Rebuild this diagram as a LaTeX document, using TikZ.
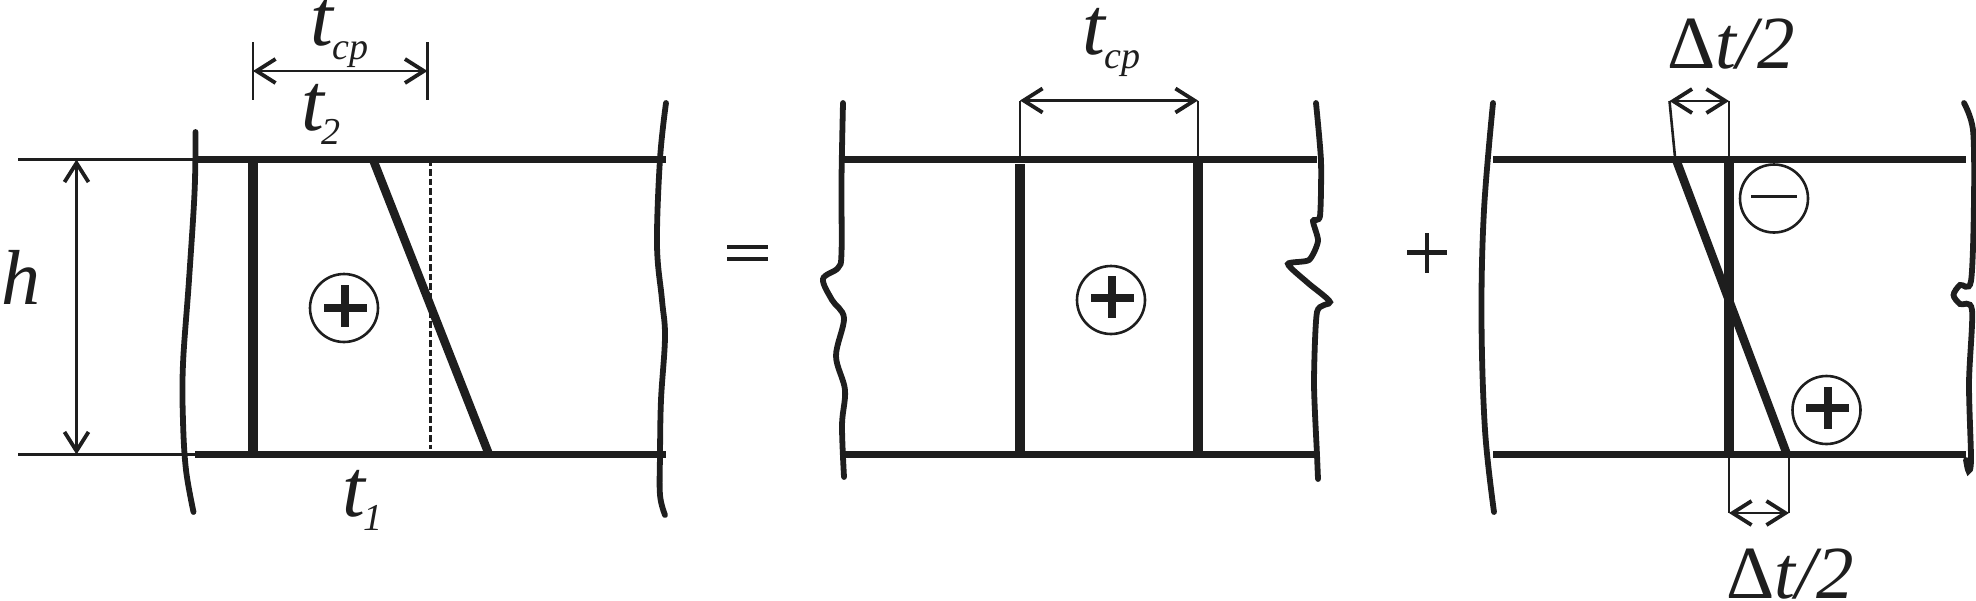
\documentclass[tikz,border=0pt]{standalone}
\usepackage{fontspec}
\setmainfont{Liberation Serif}
\usetikzlibrary{arrows.meta}
\definecolor{ink}{HTML}{1E1E1E}
\newcommand{\bigf}{\fontsize{82}{88}\selectfont\itshape}
\newcommand{\subf}{\fontsize{38}{40}\selectfont\itshape}
\newcommand{\tsub}[2]{\bigf t\hspace{#2}\raisebox{-14pt}{\subf #1}}
\newcommand{\dt}{{\fontsize{75}{80}\selectfont Δ\itshape t/2}}
\tikzset{
  chord/.style={draw=ink,line width=6.4pt},
  web/.style={draw=ink,line width=9.5pt},
  slant/.style={draw=ink,line width=8.5pt},
  brk/.style={draw=ink,line width=5.8pt,line cap=round},
  thin line/.style={draw=ink,line width=2.6pt},
  dim/.style={draw=ink,line width=2.8pt,{Straight Barb[length=19pt,width=24pt,line width=3.8pt]}-{Straight Barb[length=19pt,width=24pt,line width=3.8pt]}},
  lab/.style={anchor=base west,inner sep=0pt,text=ink},
  sign/.style={circle,draw=ink,line width=2.6pt,minimum size=68pt,inner sep=0pt},
  bar/.style={draw=ink,line width=8pt},
  smallbar/.style={draw=ink,line width=4.8pt}
}
\begin{document}
\begin{tikzpicture}[x=1pt,y=-1pt]
\useasboundingbox (0,0) rectangle (1976,600);
% ---------- left panel
\coordinate (aTL) at (18,159.5); \coordinate (aBL) at (18,454.5);
\coordinate (aT0) at (195,159.5); \coordinate (aB0) at (195,454.5);
\coordinate (aT1) at (666,159.5); \coordinate (aB1) at (666,454.5);
\coordinate (aW0) at (253,159.5); \coordinate (aW1) at (253,454.5);
\coordinate (aS0) at (373,159.5); \coordinate (aS1) at (489,454.5);
\coordinate (aD0) at (430.5,159.5); \coordinate (aD1) at (430.5,449);
\coordinate (hT) at (76.5,159.5); \coordinate (hB) at (76.5,454.5);
\coordinate (aE0) at (253,42); \coordinate (aE1) at (253,100);
\coordinate (aE2) at (427.5,42); \coordinate (aE3) at (427.5,100);
\coordinate (aA0) at (253,71); \coordinate (aA1) at (427.5,71);
\draw[thin line] (aTL) -- (aT0);
\draw[thin line] (aBL) -- (aB0);
\draw[chord] (aT0) -- (aT1);
\draw[chord] (aB0) -- (aB1);
\draw[web] (aW0) -- (aW1);
\draw[draw=ink,line width=2.6pt,dash pattern=on 6.5pt off 3pt] (aD0) -- (aD1);
\draw[slant] (aS0) -- (aS1);
\draw[dim] (hT) -- (hB);
\draw[thin line] (aE0) -- (aE1);
\draw[thin line] (aE2) -- (aE3);
\draw[dim] (aA0) -- (aA1);
\draw[brk] plot[smooth,tension=0.6] coordinates {(195.5,132) (194.6,191) (189,280) (183,364) (183,421) (186,470) (193.5,512)};
\draw[brk] plot[smooth,tension=0.6] coordinates {(666,103) (660,159) (657,245) (662,300) (665,337) (661,400) (660,455) (660,495) (665,515)};
\node[sign] (c1) at (344,308) {};
\draw[bar] (324,308) -- (367,308);
\draw[bar] (345,285) -- (345,327);
\node[lab] (tcpA) at (310,45) {\tsub{cp}{0pt}};
\node[lab] (t2) at (301,130) {\tsub{2}{-2pt}};
\node[lab] (t1) at (342,516) {\tsub{1}{-1pt}};
\node[lab] (h) at (1,304) {\fontsize{78}{84}\selectfont\itshape h};
% ---------- equals
\draw[smallbar] (727,247) -- (768,247);
\draw[smallbar] (727,259) -- (768,259);
% ---------- middle panel
\coordinate (bT0) at (843,159.5); \coordinate (bT1) at (1317,159.5);
\coordinate (bB0) at (845,454.5); \coordinate (bB1) at (1317,454.5);
\coordinate (bW0) at (1020,164); \coordinate (bW1) at (1020,458);
\coordinate (bV0) at (1198,159.5); \coordinate (bV1) at (1198,454.5);
\coordinate (bE0) at (1020,100.5); \coordinate (bE1) at (1020,159.5);
\coordinate (bE2) at (1198,100.5); \coordinate (bE3) at (1198,159.5);
\draw[chord] (bT0) -- (bT1);
\draw[chord] (bB0) -- (bB1);
\draw[web] (bW0) -- (bW1);
\draw[web] (bV0) -- (bV1);
\draw[thin line] (bE0) -- (bE1);
\draw[thin line] (bE2) -- (bE3);
\draw[dim] (bE0) -- (bE2);
\draw[brk] plot[smooth,tension=0.55] coordinates {(843,103) (841.5,180) (841.5,253) (838,268) (823,279) (832,300) (844,318) (836,356) (845,390) (842,425) (844,477)};
\draw[brk] plot[smooth,tension=0.4] coordinates {(1316,103) (1321,161) (1320,216) (1313,221) (1318,241) (1309,260) (1288,264) (1308,283) (1330,302) (1317,312) (1314,383) (1317,455) (1318,479)};
\node[sign] (c2) at (1111,300) {};
\draw[bar] (1091,298) -- (1134,298);
\draw[bar] (1112,276) -- (1112,318);
\node[lab] (tcpB) at (1082,54) {\tsub{cp}{0pt}};
% ---------- plus
\draw[smallbar] (1407,252.5) -- (1447,252.5);
\draw[smallbar] (1427,233) -- (1427,273);
% ---------- right panel
\coordinate (cT0) at (1493,159.5); \coordinate (cT1) at (1965.5,159.5);
\coordinate (cB0) at (1493,454.5); \coordinate (cB1) at (1965.5,454.5);
\coordinate (cW0) at (1729,159.5); \coordinate (cW1) at (1729,454.5);
\coordinate (cS0) at (1676,159.5); \coordinate (cS1) at (1787,454.5);
\coordinate (cA0) at (1669.5,101); \coordinate (cA1) at (1729,101);
\coordinate (cE0) at (1675,157);
\coordinate (cF0) at (1729,513); \coordinate (cF1) at (1789,513);
\coordinate (cG0) at (1729,454.5); \coordinate (cG1) at (1789,454.5);
\draw[chord] (cT0) -- (cT1);
\draw[chord] (cB0) -- (cB1);
\draw[web] (cW0) -- (cW1);
\draw[slant] (cS0) -- (cS1);
\draw[thin line] (cA0) -- (cE0);
\draw[thin line] (cA1) -- (cW0);
\draw[thin line] (cG0) -- (cF0);
\draw[thin line] (cG1) -- (cF1);
\draw[dim] (cA0) -- (cA1);
\draw[dim] (cF0) -- (cF1);
\draw[brk] plot[smooth,tension=0.6] coordinates {(1493,103) (1484,210) (1481.5,318) (1485,430) (1494,512)};
\draw[brk] plot[smooth,tension=0.5] coordinates {(1964,103) (1973,130) (1974,199) (1971,281) (1960,285) (1953.5,295) (1960,304) (1972,310) (1969,383) (1971,459) (1968.5,471) (1966,460)};
\node[sign] (c3) at (1774,198.5) {};
\draw[draw=ink,line width=3pt] (1751,196.5) -- (1797,196.5);
\node[sign] (c4) at (1826.5,410) {};
\draw[bar] (1806,408) -- (1849,408);
\draw[bar] (1827.5,387) -- (1827.5,429);
\node[lab] (dtA) at (1667,68) {\dt};
\node[lab] (dtB) at (1726,598) {\dt};
\end{tikzpicture}
\end{document}
